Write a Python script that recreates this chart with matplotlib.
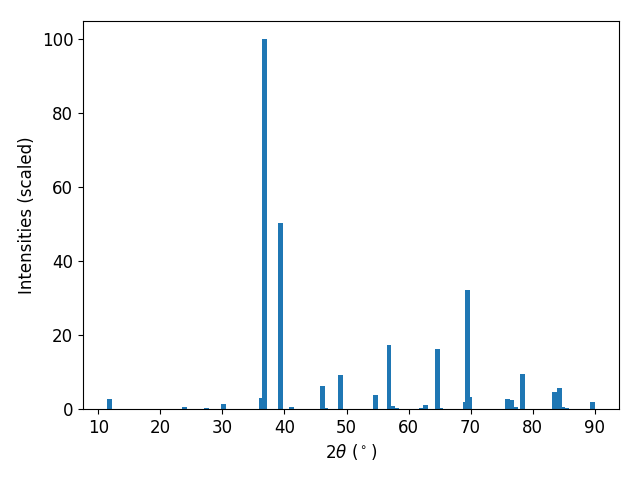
import matplotlib
matplotlib.use("Agg")
import matplotlib.pyplot as plt

# peak positions (2theta, degrees) and scaled intensities
two_theta = [11.85, 23.95, 27.5, 30.1, 36.35, 36.85, 39.3, 41.2, 46.2, 46.6,
             49.1, 54.6, 56.85, 57.45, 58.1, 62.1, 62.7, 64.7, 65.2, 69.25,
             69.55, 69.8, 76.0, 76.6, 77.2, 78.3, 83.6, 84.4, 84.9, 85.4, 89.6]
intensities = [2.7, 0.5, 0.3, 1.4, 3.0, 100.0, 50.4, 0.5, 6.2, 0.3,
               9.2, 3.8, 17.4, 0.8, 0.3, 0.2, 1.1, 16.3, 0.3, 1.9,
               32.3, 3.3, 2.7, 2.5, 0.5, 9.5, 4.6, 5.7, 0.5, 0.3, 1.9]

plt.rcParams['font.size'] = 12

fig, ax = plt.subplots(figsize=(6.4, 4.8), dpi=100)
ax.bar(two_theta, intensities, width=0.8, color='#1f77b4')
ax.set_xlabel(r'$2\theta$ ($^\circ$)')
ax.set_ylabel('Intensities (scaled)')
fig.subplots_adjust(left=83 / 640, right=619 / 640, top=1 - 21 / 480, bottom=1 - 409 / 480)
fig.savefig('out.png')
